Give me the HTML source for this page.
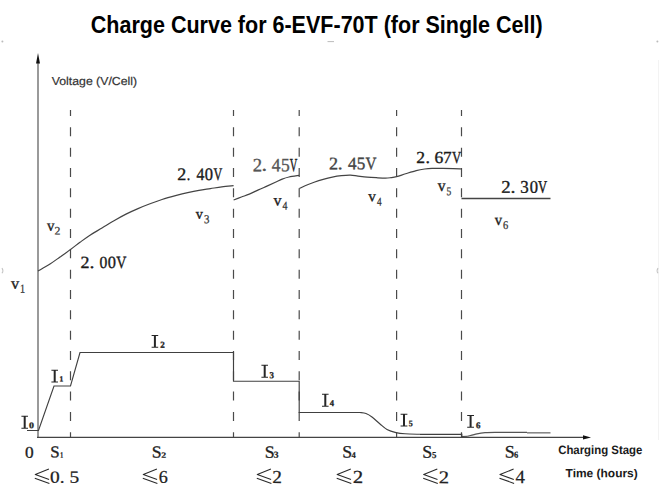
<!DOCTYPE html>
<html><head><meta charset="utf-8"><title>Charge Curve</title>
<style>
html,body{margin:0;padding:0;background:#fff;width:661px;height:502px;overflow:hidden}
svg{display:block}
.S{font-family:"Liberation Sans",sans-serif;font-size:100px}
.Sb{font-family:"Liberation Sans",sans-serif;font-size:100px;font-weight:bold}
.R{font-family:"Liberation Serif",serif;font-size:100px}
.Rb{font-family:"Liberation Serif",serif;font-size:100px;font-weight:bold}
</style></head><body>
<svg width="661" height="502" viewBox="0 0 661 502">
<rect width="661" height="502" fill="#fff"/>
<line x1="658.5" y1="60" x2="658.5" y2="440" stroke="#f3f3f3" stroke-width="1"/>
<circle cx="2.4" cy="41.6" r="1" fill="#bbb"/>
<circle cx="657.4" cy="41.6" r="1" fill="#bbb"/>
<path d="M2,268 Q3.8,270.6 2,273.3" fill="none" stroke="#c4c4c4" stroke-width="1.1"/>
<path d="M658,268 Q656.2,270.6 658,273.3" fill="none" stroke="#c4c4c4" stroke-width="1.1"/>
<line x1="327.5" y1="41.6" x2="334" y2="41.6" stroke="#b4b4b4" stroke-width="0.9"/>
<line x1="70.5" y1="110" x2="70.5" y2="437" stroke="#4a4a4a" stroke-width="1.2" stroke-dasharray="9 11.33" stroke-dashoffset="3"/>
<line x1="233.5" y1="110" x2="233.5" y2="437" stroke="#4a4a4a" stroke-width="1.2" stroke-dasharray="9 11.33" stroke-dashoffset="3"/>
<line x1="299.2" y1="110" x2="299.2" y2="437" stroke="#4a4a4a" stroke-width="1.2" stroke-dasharray="9 11.33" stroke-dashoffset="3"/>
<line x1="396.6" y1="110" x2="396.6" y2="437" stroke="#4a4a4a" stroke-width="1.2" stroke-dasharray="9 11.33" stroke-dashoffset="3"/>
<line x1="461.5" y1="110" x2="461.5" y2="437" stroke="#4a4a4a" stroke-width="1.2" stroke-dasharray="9 11.33" stroke-dashoffset="3"/>
<line x1="38" y1="62" x2="38" y2="438" stroke="#9a9a9a" stroke-width="2"/>
<path d="M38,53 L40,63.5 L36,63.5 Z" fill="#111"/>
<line x1="37" y1="437.4" x2="584" y2="437.4" stroke="#444" stroke-width="1.25"/>
<path d="M591,437.4 L583,435.2 L583,439.6 Z" fill="#111"/>
<path d="M38,271 C40,269.833 46.333,266.333 50,264 C53.667,261.667 56.583,259.417 60,257 C63.417,254.583 67.167,251.95 70.5,249.5 C73.833,247.05 76.75,244.683 80,242.3 C83.25,239.917 86.333,237.583 90,235.2 C93.667,232.817 98,230.417 102,228 C106,225.583 110,223.017 114,220.7 C118,218.383 122,216.117 126,214.1 C130,212.083 134,210.317 138,208.6 C142,206.883 146,205.317 150,203.8 C154,202.283 157.6,200.9 162,199.5 C166.4,198.1 172.117,196.55 176.4,195.4 C180.683,194.25 183.933,193.45 187.7,192.6 C191.467,191.75 195.217,190.967 199,190.3 C202.783,189.633 206.6,189.167 210.4,188.6 C214.2,188.033 217.933,187.383 221.8,186.9 C225.667,186.417 231.633,185.9 233.6,185.7" fill="none" stroke="#444" stroke-width="1.2"/>
<path d="M233.6,200 C234.9,199.5 238.783,197.983 241.4,197 C244.017,196.017 246.467,195.283 249.3,194.1 C252.133,192.917 255.367,191.267 258.4,189.9 C261.433,188.533 264.667,187.167 267.5,185.9 C270.333,184.633 272.95,183.433 275.4,182.3 C277.85,181.167 279.933,179.983 282.2,179.1 C284.467,178.217 286.167,177.617 289,177 C291.833,176.383 297.5,175.667 299.2,175.4" fill="none" stroke="#444" stroke-width="1.2"/>
<path d="M299.4,188.5 C300.35,188.033 302.65,186.75 305.1,185.7 C307.55,184.65 311.083,183.267 314.1,182.2 C317.117,181.133 320.167,180.15 323.2,179.3 C326.233,178.45 329.267,177.7 332.3,177.1 C335.333,176.5 338.383,176.017 341.4,175.7 C344.417,175.383 347.633,175.133 350.4,175.2 C353.167,175.267 355.2,175.783 358,176.1 C360.8,176.417 364.15,176.833 367.2,177.1 C370.25,177.367 373.267,177.533 376.3,177.7 C379.333,177.867 382.983,178.1 385.4,178.1 C387.817,178.1 388.933,177.933 390.8,177.7 C392.667,177.467 394.133,177.35 396.6,176.7 C399.067,176.05 402.333,174.817 405.6,173.8 C408.867,172.783 413.017,171.4 416.2,170.6 C419.383,169.8 422.05,169.367 424.7,169 C427.35,168.633 429.1,168.5 432.1,168.4 C435.1,168.3 439.167,168.367 442.7,168.4 C446.233,168.433 450.167,168.5 453.3,168.6 C456.433,168.7 460.133,168.933 461.5,169" fill="none" stroke="#444" stroke-width="1.2"/>
<path d="M461.5,198.5 L550.5,198.5" fill="none" stroke="#444" stroke-width="1.3"/>
<path d="M27,430.5 L38.5,430.5 L54,386 L70.5,386 L80,352.5 L233.5,352.5 L233.5,381.2 L299.2,381.2 L299.2,412.5 L360,412.5" fill="none" stroke="#404040" stroke-width="1.15" stroke-linejoin="miter"/>
<path d="M360,412.5 C361,412.667 364,412.75 366,413.5 C368,414.25 369.667,415.25 372,417 C374.333,418.75 377.5,421.917 380,424 C382.5,426.083 384.333,428.067 387,429.5 C389.667,430.933 393,431.883 396,432.6 C399,433.317 401,433.517 405,433.8 C409,434.083 417.5,434.217 420,434.3" fill="none" stroke="#404040" stroke-width="1.15"/>
<path d="M420,434.3 L461.8,434.3 L461.8,436.5 L467.7,436.3" fill="none" stroke="#404040" stroke-width="1.15"/>
<path d="M467.7,436.3 C469.25,435.883 474.117,434.417 477,433.8 C479.883,433.183 482,432.85 485,432.6 C488,432.35 488,432.333 495,432.3 C502,432.267 521.667,432.383 527,432.4" fill="none" stroke="#555" stroke-width="1.2"/>
<line x1="527" y1="432.8" x2="550.5" y2="432.8" stroke="#888" stroke-width="1.6"/>
<path transform="translate(34.5,469.1)" d="M14.4,0 L0.8,5.4 L14.6,10.3 M0.3,9.1 L14.9,14.3" fill="none" stroke="#2a2a2a" stroke-width="1.1" stroke-linejoin="round"/>
<path transform="translate(142.5,469.1)" d="M14.4,0 L0.8,5.4 L14.6,10.3 M0.3,9.1 L14.9,14.3" fill="none" stroke="#2a2a2a" stroke-width="1.1" stroke-linejoin="round"/>
<path transform="translate(256.5,469.1)" d="M14.4,0 L0.8,5.4 L14.6,10.3 M0.3,9.1 L14.9,14.3" fill="none" stroke="#2a2a2a" stroke-width="1.1" stroke-linejoin="round"/>
<path transform="translate(336.4,469.1)" d="M14.4,0 L0.8,5.4 L14.6,10.3 M0.3,9.1 L14.9,14.3" fill="none" stroke="#2a2a2a" stroke-width="1.1" stroke-linejoin="round"/>
<path transform="translate(422.9,469.1)" d="M14.4,0 L0.8,5.4 L14.6,10.3 M0.3,9.1 L14.9,14.3" fill="none" stroke="#2a2a2a" stroke-width="1.1" stroke-linejoin="round"/>
<path transform="translate(499.2,469.1)" d="M14.4,0 L0.8,5.4 L14.6,10.3 M0.3,9.1 L14.9,14.3" fill="none" stroke="#2a2a2a" stroke-width="1.1" stroke-linejoin="round"/>
<path d="M21.4,415.8 H28 V416.85 H25.7 V427.65 H28 V428.7 H21.4 V427.65 H23.7 V416.85 H21.4 Z" fill="#262626"/>
<path d="M51.4,369.8 H58 V370.85 H55.7 V381.45 H58 V382.5 H51.4 V381.45 H53.7 V370.85 H51.4 Z" fill="#262626"/>
<path d="M151.6,335 H158.2 V336.05 H155.9 V346.65 H158.2 V347.7 H151.6 V346.65 H153.9 V336.05 H151.6 Z" fill="#262626"/>
<path d="M261.4,364.8 H268 V365.85 H265.7 V376.65 H268 V377.7 H261.4 V376.65 H263.7 V365.85 H261.4 Z" fill="#262626"/>
<path d="M322,393.8 H328.6 V394.85 H326.3 V405.65 H328.6 V406.7 H322 V405.65 H324.3 V394.85 H322 Z" fill="#262626"/>
<path d="M400.6,413.8 H407.4 V414.85 H405 V425.45 H407.4 V426.5 H400.6 V425.45 H403 V414.85 H400.6 Z" fill="#262626"/>
<path d="M467.2,415 H474 V416.05 H471.6 V426.65 H474 V427.7 H467.2 V426.65 H469.6 V416.05 H467.2 Z" fill="#262626"/>
<text class="Sb" fill="#000" transform="matrix(0.21527 0.0001 0 0.24618 90.789 33.121)">Charge Curve for 6-EVF-70T (for Single Cell)</text>
<text class="S" fill="#333" stroke="#333" stroke-width="1.679" transform="matrix(0.12286 0.0001 0 0.11555 51.78 85.062)">Voltage (V/Cell)</text>
<text class="R" fill="#222" stroke="#222" stroke-width="2.146" transform="matrix(0.16389 0.0001 0 0.16231 11.004 288.739)">v</text>
<text class="R" fill="#333" stroke="#333" stroke-width="2.285" transform="matrix(0.10121 0.0001 0 0.11832 19.875 292.432)">1</text>
<text class="R" fill="#222" stroke="#222" stroke-width="2.298" transform="matrix(0.14837 0.0001 0 0.15639 46.885 230.808)">v</text>
<text class="R" fill="#333" stroke="#333" stroke-width="2.155" transform="matrix(0.11785 0.0001 0 0.11417 54.464 234.589)">2</text>
<text class="R" fill="#222" stroke="#222" stroke-width="2.422" transform="matrix(0.14193 0.0001 0 0.14712 195.862 218.871)">v</text>
<text class="R" fill="#333" stroke="#333" stroke-width="2.164" transform="matrix(0.10847 0.0001 0 0.12304 203.923 223.151)">3</text>
<text class="R" fill="#222" stroke="#222" stroke-width="2.163" transform="matrix(0.16134 0.0001 0 0.16225 273.569 205.596)">v</text>
<text class="R" fill="#333" stroke="#333" stroke-width="2.323" transform="matrix(0.09868 0.0001 0 0.11740 282.419 209.416)">4</text>
<text class="R" fill="#222" stroke="#222" stroke-width="2.275" transform="matrix(0.15212 0.0001 0 0.15554 368.256 201.349)">v</text>
<text class="R" fill="#333" stroke="#333" stroke-width="2.412" transform="matrix(0.09191 0.0001 0 0.11688 377.095 205.418)">4</text>
<text class="R" fill="#222" stroke="#222" stroke-width="2.202" transform="matrix(0.15542 0.0001 0 0.16257 437.692 191.033)">v</text>
<text class="R" fill="#333" stroke="#333" stroke-width="2.34" transform="matrix(0.09491 0.0001 0 0.12022 446.394 195.207)">5</text>
<text class="R" fill="#222" stroke="#222" stroke-width="2.314" transform="matrix(0.14703 0.0001 0 0.15566 494.769 225.085)">v</text>
<text class="R" fill="#333" stroke="#333" stroke-width="2.249" transform="matrix(0.10469 0.0001 0 0.11803 502.911 229.096)">6</text>
<text class="Rb" fill="#222" stroke="#222" stroke-width="3.205" transform="matrix(0.09976 0.0001 0 0.08783 29.087 428.195)">0</text>
<text class="Rb" fill="#222" stroke="#222" stroke-width="3.987" transform="matrix(0.07503 0.0001 0 0.07545 59.558 381.298)">1</text>
<text class="Rb" fill="#222" stroke="#222" stroke-width="3.302" transform="matrix(0.09040 0.0001 0 0.09134 160.228 347.84)">2</text>
<text class="Rb" fill="#222" stroke="#222" stroke-width="3.286" transform="matrix(0.08899 0.0001 0 0.09367 269.506 378.196)">3</text>
<text class="Rb" fill="#222" stroke="#222" stroke-width="3.419" transform="matrix(0.08599 0.0001 0 0.08954 329.827 406.063)">4</text>
<text class="Rb" fill="#222" stroke="#222" stroke-width="3.635" transform="matrix(0.07929 0.0001 0 0.08593 408.68 426.132)">5</text>
<text class="Rb" fill="#222" stroke="#222" stroke-width="3.368" transform="matrix(0.08904 0.0001 0 0.08910 476.08 428.242)">6</text>
<text class="R" fill="#222" stroke="#222" stroke-width="1.784" transform="matrix(0.17348 0.0001 0 0.16294 25.003 457.847)">0</text>
<text class="R" fill="#222" stroke="#222" stroke-width="1.798" transform="matrix(0.16864 0.0001 0 0.16501 50.221 457.335)">S</text>
<text class="Rb" fill="#222" stroke="#222" stroke-width="2.849" transform="matrix(0.05853 0.0001 0 0.08419 60.135 457.762)">1</text>
<text class="R" fill="#222" stroke="#222" stroke-width="1.727" transform="matrix(0.17783 0.0001 0 0.16961 151.665 457.381)">S</text>
<text class="Rb" fill="#222" stroke="#222" stroke-width="2.264" transform="matrix(0.09829 0.0001 0 0.07940 161.317 457.857)">2</text>
<text class="R" fill="#222" stroke="#222" stroke-width="1.71" transform="matrix(0.17778 0.0001 0 0.17310 264.629 457.818)">S</text>
<text class="Rb" fill="#222" stroke="#222" stroke-width="2.114" transform="matrix(0.09600 0.0001 0 0.09326 273.824 457.834)">3</text>
<text class="R" fill="#222" stroke="#222" stroke-width="1.713" transform="matrix(0.17781 0.0001 0 0.17255 342.229 457.602)">S</text>
<text class="Rb" fill="#222" stroke="#222" stroke-width="2.305" transform="matrix(0.08563 0.0001 0 0.08795 351.576 457.997)">4</text>
<text class="R" fill="#222" stroke="#222" stroke-width="1.679" transform="matrix(0.17972 0.0001 0 0.17763 422.187 457.752)">S</text>
<text class="Rb" fill="#222" stroke="#222" stroke-width="2.224" transform="matrix(0.08850 0.0001 0 0.09139 431.899 457.889)">5</text>
<text class="R" fill="#222" stroke="#222" stroke-width="1.701" transform="matrix(0.17887 0.0001 0 0.17392 504.633 457.608)">S</text>
<text class="Rb" fill="#222" stroke="#222" stroke-width="2.27" transform="matrix(0.08411 0.0001 0 0.09228 514.089 457.843)">6</text>
<text class="R" fill="#222" stroke="#222" stroke-width="1.37" transform="matrix(0.19439 0.0001 0 0.17120 49.962 482.754)">0. 5</text>
<text class="R" fill="#222" stroke="#222" stroke-width="1.394" transform="matrix(0.18093 0.0001 0 0.17779 158.638 482.726)">6</text>
<text class="R" fill="#222" stroke="#222" stroke-width="1.328" transform="matrix(0.19343 0.0001 0 0.18318 272.338 483.014)">2</text>
<text class="R" fill="#222" stroke="#222" stroke-width="1.276" transform="matrix(0.20852 0.0001 0 0.18408 352.815 482.983)">2</text>
<text class="R" fill="#222" stroke="#222" stroke-width="1.293" transform="matrix(0.20623 0.0001 0 0.18138 438.695 483.148)">2</text>
<text class="R" fill="#222" stroke="#222" stroke-width="1.339" transform="matrix(0.18841 0.0001 0 0.18502 515.44 482.995)">4</text>
<text class="Sb" fill="#1a1a1a" transform="matrix(0.11416 0.0001 0 0.12136 558.145 453.966)">Charging Stage</text>
<text class="Sb" fill="#1a1a1a" transform="matrix(0.11966 0.0001 0 0.11926 565.548 477.318)">Time (hours)</text>
<text class="R" fill="#1a1a1a" stroke="#1a1a1a" stroke-width="1.993" transform="matrix(0.18008 0.0001 0 0.17130 80.622 267.951)">2</text>
<text class="R" fill="#1a1a1a" stroke="#1a1a1a" stroke-width="1.897" transform="matrix(0.19882 0.0001 0 0.17130 89.399 267.951)">.</text>
<text class="R" fill="#1a1a1a" stroke="#1a1a1a" stroke-width="2.138" transform="matrix(0.15650 0.0001 0 0.17130 99.403 267.951)">0</text>
<text class="R" fill="#1a1a1a" stroke="#1a1a1a" stroke-width="2.09" transform="matrix(0.16379 0.0001 0 0.17130 107.636 267.951)">0</text>
<text class="R" fill="#1a1a1a" stroke="#1a1a1a" stroke-width="2.253" transform="matrix(0.14089 0.0001 0 0.17130 116.321 267.951)">V</text>
<text class="R" fill="#1a1a1a" stroke="#1a1a1a" stroke-width="1.963" transform="matrix(0.18023 0.0001 0 0.17646 177.307 179.987)">2</text>
<text class="R" fill="#1a1a1a" stroke="#1a1a1a" stroke-width="2.231" transform="matrix(0.13941 0.0001 0 0.17646 186.832 179.987)">.</text>
<text class="R" fill="#1a1a1a" stroke="#1a1a1a" stroke-width="2.101" transform="matrix(0.15731 0.0001 0 0.17646 196.553 179.987)">4</text>
<text class="R" fill="#1a1a1a" stroke="#1a1a1a" stroke-width="2.049" transform="matrix(0.16533 0.0001 0 0.17646 204.821 179.987)">0</text>
<text class="R" fill="#1a1a1a" stroke="#1a1a1a" stroke-width="2.389" transform="matrix(0.12167 0.0001 0 0.17646 213.56 179.987)">V</text>
<text class="R" fill="#555" stroke="#555" stroke-width="1.866" transform="matrix(0.18713 0.0001 0 0.18795 252.703 171.224)">2</text>
<text class="R" fill="#555" stroke="#555" stroke-width="1.702" transform="matrix(0.22504 0.0001 0 0.18795 261.475 171.224)">.</text>
<text class="R" fill="#555" stroke="#555" stroke-width="1.933" transform="matrix(0.17450 0.0001 0 0.18795 271.809 171.224)">4</text>
<text class="R" fill="#555" stroke="#555" stroke-width="1.93" transform="matrix(0.17506 0.0001 0 0.18795 280.899 171.224)">5</text>
<text class="R" fill="#1a1a1a" stroke="#1a1a1a" stroke-width="2.493" transform="matrix(0.10484 0.0001 0 0.18795 289.814 171.224)">V</text>
<text class="R" fill="#444" stroke="#444" stroke-width="1.961" transform="matrix(0.18149 0.0001 0 0.17557 329.044 169.343)">2</text>
<text class="R" fill="#444" stroke="#444" stroke-width="1.893" transform="matrix(0.19475 0.0001 0 0.17557 337.728 169.343)">.</text>
<text class="R" fill="#444" stroke="#444" stroke-width="2.016" transform="matrix(0.17162 0.0001 0 0.17557 347.952 169.343)">4</text>
<text class="R" fill="#444" stroke="#444" stroke-width="2.014" transform="matrix(0.17194 0.0001 0 0.17557 356.782 169.343)">5</text>
<text class="R" fill="#444" stroke="#444" stroke-width="2.141" transform="matrix(0.15219 0.0001 0 0.17557 365.605 169.343)">V</text>
<text class="R" fill="#1a1a1a" stroke="#1a1a1a" stroke-width="2.029" transform="matrix(0.17583 0.0001 0 0.16920 416.348 162.987)">2</text>
<text class="R" fill="#1a1a1a" stroke="#1a1a1a" stroke-width="2.003" transform="matrix(0.18051 0.0001 0 0.16920 425.38 162.987)">.</text>
<text class="R" fill="#1a1a1a" stroke="#1a1a1a" stroke-width="2.031" transform="matrix(0.17549 0.0001 0 0.16920 434.614 162.987)">6</text>
<text class="R" fill="#1a1a1a" stroke="#1a1a1a" stroke-width="2.045" transform="matrix(0.17319 0.0001 0 0.16920 443.106 162.987)">7</text>
<text class="R" fill="#1a1a1a" stroke="#1a1a1a" stroke-width="2.383" transform="matrix(0.12754 0.0001 0 0.16920 452.087 162.987)">V</text>
<text class="R" fill="#1a1a1a" stroke="#1a1a1a" stroke-width="1.918" transform="matrix(0.18704 0.0001 0 0.17808 501.225 192.865)">2</text>
<text class="R" fill="#1a1a1a" stroke="#1a1a1a" stroke-width="1.857" transform="matrix(0.19954 0.0001 0 0.17808 510.501 192.865)">.</text>
<text class="R" fill="#1a1a1a" stroke="#1a1a1a" stroke-width="2.013" transform="matrix(0.16980 0.0001 0 0.17808 520.24 192.865)">3</text>
<text class="R" fill="#1a1a1a" stroke="#1a1a1a" stroke-width="2.038" transform="matrix(0.16568 0.0001 0 0.17808 529.831 192.865)">0</text>
<text class="R" fill="#1a1a1a" stroke="#1a1a1a" stroke-width="2.331" transform="matrix(0.12659 0.0001 0 0.17808 538.09 192.865)">V</text>
</svg>
</body></html>
